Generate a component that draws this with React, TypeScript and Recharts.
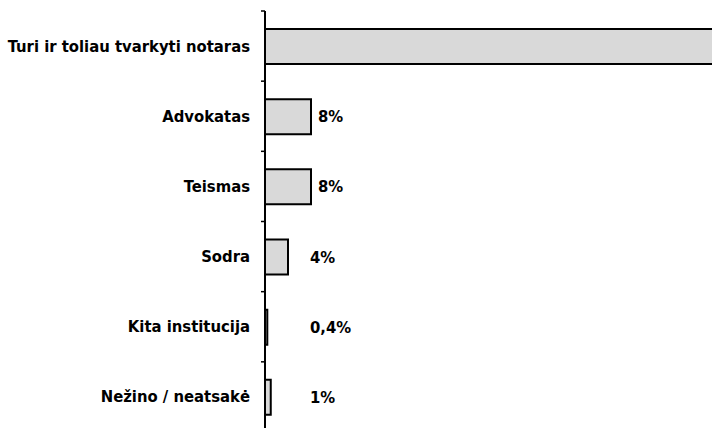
import { Bar, BarChart, LabelList, XAxis, YAxis } from 'recharts'

const categories = [
  'Turi ir toliau tvarkyti notaras',
  'Advokatas',
  'Teismas',
  'Sodra',
  'Kita institucija',
  'Nežino / neatsakė',
]
const shares = [79, 8, 8, 4, 0.4, 1]

const data = categories.map((name, i) => ({ name, value: shares[i] }))

const FONT = "'DejaVu Sans Condensed', 'Liberation Sans Narrow', 'DejaVu Sans', sans-serif"
const VISIBLE_W = 712

function formatPct(v: number): string {
  return String(v).replace('.', ',') + '%'
}

// labels centred in each band, short ticks on the band edges
function CategoryTick(props: any) {
  const { x, y, payload, index, visibleTicksCount } = props
  const half = payload?.offset ?? 35
  const axisX = x + 15
  return (
    <g>
      <line x1={axisX} x2={axisX - 4} y1={y - half} y2={y - half} stroke="#000" strokeWidth={1.5} />
      {index === visibleTicksCount - 1 && (
        <line x1={axisX} x2={axisX - 4} y1={y + half} y2={y + half} stroke="#000" strokeWidth={1.5} />
      )}
      <text
        x={x}
        y={y}
        textAnchor="end"
        dominantBaseline="central"
        fontFamily={FONT}
        fontWeight="bold"
        fontSize={16.5}
        fill="#000"
      >
        {payload.value}
      </text>
    </g>
  )
}

function ValueLabel(props: any) {
  const { x, y, width, height, value } = props
  const lx = x + Math.max(width, 38) + 7
  if (lx > VISIBLE_W) return null
  return (
    <text
      x={lx}
      y={y + height / 2}
      dominantBaseline="central"
      fontFamily={FONT}
      fontWeight="bold"
      fontSize={16.5}
      fill="#000"
    >
      {formatPct(value)}
    </text>
  )
}

export default function App() {
  return (
    <div
      style={{
        position: 'fixed',
        left: 0,
        top: 0,
        width: VISIBLE_W,
        height: 428,
        overflow: 'hidden',
        background: '#fff',
      }}
    >
      <BarChart
        width={860}
        height={440}
        data={data}
        layout="vertical"
        margin={{ top: 11, right: 20, left: 0, bottom: 8 }}
      >
        <XAxis type="number" domain={[0, 100]} hide />
        <YAxis
          type="category"
          dataKey="name"
          width={265}
          axisLine={{ stroke: '#000', strokeWidth: 2 }}
          tickLine={false}
          tickSize={0}
          tickMargin={15}
          tick={<CategoryTick />}
          interval={0}
        />
        <Bar
          dataKey="value"
          fill="#d9d9d9"
          stroke="#000"
          strokeWidth={2}
          barSize={35}
          isAnimationActive={false}
        >
          <LabelList dataKey="value" content={<ValueLabel />} />
        </Bar>
      </BarChart>
    </div>
  )
}
